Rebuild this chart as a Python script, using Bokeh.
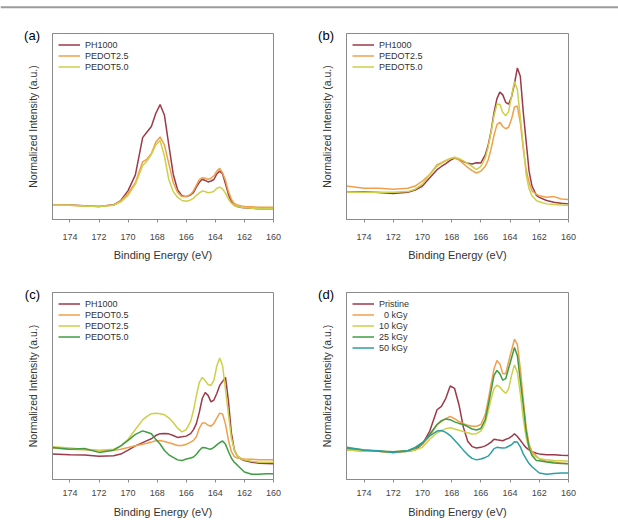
from bokeh.plotting import figure
from bokeh.layouts import column, row
from bokeh.models import Range1d, FixedTicker, Label, Legend, LegendItem, Span
from bokeh.embed import file_html
from bokeh.resources import INLINE

# Binding energy grid (eV), shared by every spectrum
BE = [175.2, 174.0, 173.0, 172.0, 171.0, 170.5, 170.0, 169.5, 169.0, 168.7,
      168.4, 168.1, 167.8, 167.5, 167.2, 166.9, 166.6, 166.3, 166.0, 165.7,
      165.5, 165.3, 165.1, 164.9, 164.7, 164.5, 164.3, 164.1, 163.9, 163.7,
      163.5, 163.3, 163.1, 162.9, 162.7, 162.5, 162.2, 162.0, 161.5, 161.0,
      160.5, 160.0]

X_TICKS = [174, 172, 170, 168, 166, 164, 162, 160]

# (a) S 2p spectra
A_PH1000 = [7.6, 7.8, 7.4, 7.0, 7.9, 10.2, 15.5, 24, 44,
            47, 50, 57, 61.8, 56, 40, 24.5, 16, 12.8, 12.3,
            13.2, 14.6, 17.5, 20, 21.6, 21, 20.2, 20.7, 21.5,
            24.5, 26, 24.5, 19, 13.5, 9.5, 7.6, 7.0, 6.5, 6.3,
            6.0, 5.8, 5.8, 5.8]
A_PEDOT25 = [7.8, 7.6, 7.2, 7.0, 7.8, 10, 14, 19.8, 31,
             32.5, 35.5, 41.5, 44.4, 40, 30, 20, 14.5, 12.3, 12.3,
             13.5, 15.5, 18.5, 21.5, 22.5, 22.2, 21.6, 22.2, 23.5,
             26, 27.5, 25, 21, 15, 11, 8.6, 7.8, 7.3, 7.0,
             6.8, 6.6, 6.6, 6.6]
A_PEDOT50 = [7.6, 7.6, 7.3, 7.0, 7.6, 9.5, 13, 19, 29,
             31.5, 35, 40, 42.5, 34, 21.5, 15, 12, 10.2, 9.8,
             10.5, 11.5, 13, 14.3, 15.3, 15, 14.4, 14.6, 15.2,
             16.8, 17.4, 16.5, 14, 11, 8.8, 7.6, 7.0, 6.6, 6.4,
             6.1, 5.8, 5.8, 5.8]

# (b)
B_PH1000 = [14.6, 14.9, 14.5, 14.0, 14.6, 15.8, 18, 22.5, 26.8,
            28.5, 30, 31.8, 33, 32.3, 31.2, 30.2, 29.8, 30.5, 30.4,
            34.7, 40, 47.5, 57.5, 65, 68.5, 67, 63, 62,
            66, 73, 81.5, 77, 58, 42, 26, 18, 13, 11.9,
            10.2, 9.3, 8.8, 8.4]
B_PEDOT25 = [18, 16.8, 16.8, 16.3, 16.8, 18, 20.7, 24.2, 29.5,
             30.5, 31.7, 32.7, 33.3, 32, 30, 28, 26.3, 25, 26,
             28.6, 32, 38, 45.3, 51, 52.3, 50, 48.8, 49.6,
             54, 60.5, 61, 52, 38.2, 27, 20, 15.4, 13.5, 12.8,
             12, 12.3, 11, 10.7]
B_PEDOT50 = [14.6, 14.6, 14.6, 14.6, 15, 16.3, 19, 24.2, 28.6,
             30.2, 31.5, 32.8, 33.5, 32.8, 31.5, 30, 28.6, 26.8, 28.6,
             33, 39, 47, 55.8, 62, 62, 57.5, 55.8, 58,
             66.3, 74.2, 69.8, 55, 40, 24.2, 16.5, 12.8, 10.2, 9.5,
             8.4, 8.1, 7.8, 7.5]

# (c)
C_PH1000 = [13.6, 13.3, 13.1, 12.4, 12.7, 13.6, 15.7, 18, 19.7,
            20.8, 21.8, 23.5, 24.5, 24.6, 24.4, 23.5, 22.5, 22.8, 23.2,
            24.5, 26.7, 30, 36, 43.3, 46.5, 45, 41.5, 42.5,
            46, 50.3, 52.5, 54.6, 42, 25, 16, 12.7, 10.8, 10.1,
            9.2, 8.7, 8.5, 8.4]
C_PEDOT05 = [16.8, 16.2, 15.9, 15.4, 15.7, 16.2, 17.1, 18, 18.8,
             19.4, 20, 20.7, 20.8, 20.3, 19.7, 19, 18.2, 18.2, 18.8,
             20, 20.9, 23, 27.5, 30.2, 30.2, 29, 28.5, 30,
             32.8, 35.5, 35, 29.5, 21, 15, 12.2, 11.5, 11.2, 11,
             10.8, 10.6, 10.6, 10.6]
C_PEDOT25 = [17.5, 16.8, 16.2, 15.7, 16.2, 18, 21.5, 26.7, 31.9,
             33.8, 35.2, 35.4, 35.2, 34.6, 33, 30.5, 27.5, 25.5, 26.7,
             31.1, 37, 45, 52, 54.6, 52.9, 50.8, 50.3, 53,
             60.7, 65, 60.7, 48, 35, 22.3, 16, 12.8, 11, 10.5,
             9.8, 9.2, 9.2, 9.2]
C_PEDOT50 = [17.1, 16.2, 16.6, 14.5, 15.7, 18, 20.9, 24.1, 26,
             25.3, 24.5, 21.5, 19, 15.5, 13.2, 11.8, 10.5, 10.1, 11,
             11.5, 12, 13.5, 15.5, 17.1, 17, 16.5, 16.2, 17.2,
             18.5, 19.7, 20.6, 18.8, 15, 11.5, 9.2, 7.8, 5.5, 4,
             2.8, 2.8, 3.1, 3.1]

# (d) dose series
D_PRISTINE = [15.8, 15.4, 15.1, 14.5, 15.1, 15.8, 18.9, 25.9, 37.3,
              39.1, 43.4, 50, 48.7, 40, 28, 20.5, 17.6, 16.8, 17.2,
              18, 18.9, 20, 21.5, 21.2, 21, 20.7, 21.5, 22,
              23, 24.5, 23, 21, 18.9, 17, 15.8, 14.8, 14, 13.7,
              13.3, 13.3, 13, 12.8]
D_0KGY = [15.8, 15.4, 15.1, 14.9, 15.4, 16.8, 18.9, 23.3, 29.4,
          31, 32.5, 33.8, 32.5, 31, 29.8, 29, 28.5, 28.5, 29.4,
          34.7, 42.5, 51, 59.2, 63.6, 61.8, 56.6, 56.6, 63,
          69, 75, 72.3, 59.2, 43, 28, 18.9, 15, 12.5, 11,
          9.8, 9.3, 8.8, 8.4]
D_10KGY = [15.8, 15.4, 15.1, 14.5, 15.1, 15.8, 17.2, 21.5, 25,
           26, 27.2, 27.7, 27, 26.3, 25.6, 25, 24.3, 24.5, 25.9,
           30.3, 36.5, 43, 48.7, 50.4, 49.5, 47.5, 46.1, 48.5,
           55.7, 61.3, 57.4, 46, 33, 22.4, 16.5, 13.8, 11.9, 11.3,
           10.5, 10.2, 10, 9.8]
D_25KGY = [16.8, 15.8, 15.1, 14.9, 15.4, 16.8, 19.3, 24.2, 29.4,
           31.5, 32.4, 32, 30.8, 30, 29.4, 28.3, 27, 26.5, 27.3,
           32, 39.5, 47.5, 55.7, 58.3, 56.6, 53.1, 53.9, 59.5,
           65, 70.6, 66.2, 53, 40, 25.9, 17, 12.8, 10.2, 10,
           9.3, 8.8, 8.6, 8.4]
D_50KGY = [17.2, 15.8, 15.4, 14.5, 15.4, 17.2, 19.8, 23.3, 25.9,
           26.2, 25.2, 23.5, 21, 18.5, 15.7, 13.2, 11.3, 10.5, 11,
           11.8, 12.5, 14.3, 16.5, 17.2, 17, 16.8, 17, 17.8,
           18.6, 20.2, 20, 17.5, 13.7, 11, 8.5, 6.8, 4.8, 3.5,
           2.8, 3.2, 3.5, 3.5]

RED = "#9b3a48"
ORANGE = "#f0a04c"
YELLOW = "#cdd048"
GREEN = "#3f9c44"
TEAL = "#2b9fa3"

FONT = "Liberation Sans"
FRAME = "#8a8a8a"


def panel(tag, series, width, height, left, right, top, bottom,
          tick_standoff, label_standoff):
    p = figure(width=width, height=height,
               x_range=Range1d(175.2, 160), y_range=Range1d(0, 100),
               output_backend="svg", toolbar_location=None,
               min_border=0, min_border_left=left, min_border_right=right,
               min_border_top=top, min_border_bottom=bottom)
    p.outline_line_color = FRAME
    p.outline_line_width = 1
    p.grid.visible = False

    xa = p.xaxis[0]
    xa.ticker = FixedTicker(ticks=X_TICKS)
    xa.minor_tick_line_color = None
    xa.major_tick_in = 0
    xa.major_tick_out = 3
    xa.major_tick_line_color = FRAME
    xa.axis_line_color = FRAME
    xa.major_label_text_font = FONT
    xa.major_label_text_font_size = "9px"
    xa.major_label_text_color = "#444444"
    xa.major_label_standoff = tick_standoff
    xa.axis_label = "Binding Energy (eV)"
    xa.axis_label_text_font = FONT
    xa.axis_label_text_font_size = "11px"
    xa.axis_label_text_font_style = "normal"
    xa.axis_label_text_color = "#333333"
    xa.axis_label_standoff = label_standoff

    ya = p.yaxis[0]
    ya.ticker = FixedTicker(ticks=[])
    ya.minor_tick_line_color = None
    ya.major_tick_line_color = None
    ya.axis_line_color = FRAME
    ya.major_label_text_font_size = "0px"
    ya.major_label_standoff = 0
    ya.axis_label = "Normalized Intensity (a.u.)"
    ya.axis_label_text_font = FONT
    ya.axis_label_text_font_size = "10.5px"
    ya.axis_label_text_font_style = "normal"
    ya.axis_label_text_color = "#333333"
    ya.axis_label_standoff = 14

    items = []
    for name, values, color in series:
        r = p.line(BE, values, line_color=color, line_width=1.5)
        items.append(LegendItem(label=name, renderers=[r]))

    legend = Legend(items=items, location="top_left",
                    label_text_font=FONT, label_text_font_size="9px",
                    label_text_color="#333333",
                    label_height=11, glyph_height=11, glyph_width=22,
                    label_standoff=5, spacing=0, padding=8, margin=6,
                    border_line_color=None, background_fill_alpha=0)
    p.add_layout(legend)

    # panel tag sits in the top side panel, left of the frame corner
    p.add_layout(Label(x=-12.5, y=-1.5, x_units="screen", y_units="screen",
                       text=tag, text_align="right", text_baseline="middle",
                       text_font=FONT, text_font_size="13px",
                       text_color="#000000"), "above")
    return p


pa = panel("(a)", [("PH1000", A_PH1000, RED),
                   ("PEDOT2.5", A_PEDOT25, ORANGE),
                   ("PEDOT5.0", A_PEDOT50, YELLOW)],
           309, 253, 52, 36, 23, 40, 11, 6)
pb = panel("(b)", [("PH1000", B_PH1000, RED),
                   ("PEDOT2.5", B_PEDOT25, ORANGE),
                   ("PEDOT5.0", B_PEDOT50, YELLOW)],
           309, 253, 37, 50, 23, 40, 11, 6)
pc = panel("(c)", [("PH1000", C_PH1000, RED),
                   ("PEDOT0.5", C_PEDOT05, ORANGE),
                   ("PEDOT2.5", C_PEDOT25, YELLOW),
                   ("PEDOT5.0", C_PEDOT50, GREEN)],
           309, 257, 52, 36, 29, 38, 7, 7)
pd = panel("(d)", [("Pristine", D_PRISTINE, RED),
                   ("\u20070 kGy", D_0KGY, ORANGE),
                   ("10 kGy", D_10KGY, YELLOW),
                   ("25 kGy", D_25KGY, GREEN),
                   ("50 kGy", D_50KGY, TEAL)],
           309, 257, 37, 50, 29, 38, 7, 7)

# thin grey rule across the top of the page
rule = figure(width=618, height=10, x_range=Range1d(0, 1), y_range=Range1d(0, 10),
              output_backend="svg", toolbar_location=None, min_border=0,
              x_axis_location=None, y_axis_location=None)
rule.outline_line_color = None
rule.grid.visible = False
rule.add_layout(Span(location=5.3, dimension="width", line_color="#9b9b9b", line_width=2))

page = column(rule, row(pa, pb), row(pc, pd))

open("out.html", "w").write(file_html(page, INLINE))
